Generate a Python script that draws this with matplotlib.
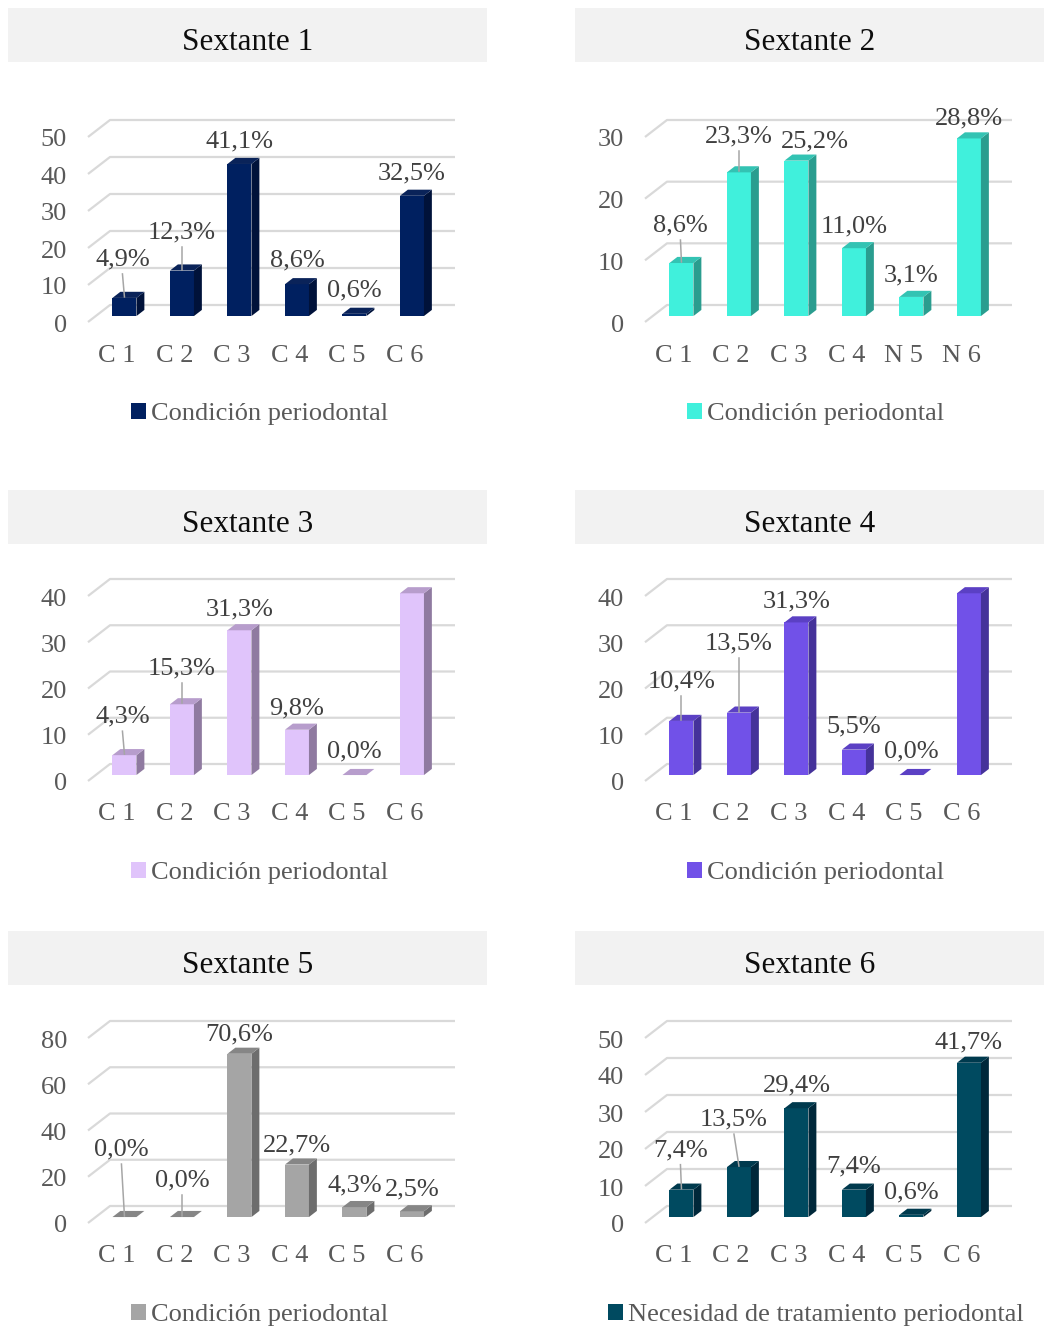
import matplotlib.pyplot as plt
from matplotlib.patches import Rectangle, Polygon, Patch

plt.rcParams['font.family'] = ['Liberation Serif', 'DejaVu Serif']

# Datos: porcentaje de cada código por sextante
categorias = ["C 1", "C 2", "C 3", "C 4", "C 5", "C 6"]
categorias_s2 = ["C 1", "C 2", "C 3", "C 4", "N 5", "N 6"]

s1 = [4.9, 12.3, 41.1, 8.6, 0.6, 32.5]
s2 = [8.6, 23.3, 25.2, 11.0, 3.1, 28.8]
s3 = [4.3, 15.3, 31.3, 9.8, 0.0, 39.3]
s4 = [10.4, 13.5, 31.3, 5.5, 0.0, 39.3]
s4_barras = [11.7, 13.5, 33.0, 5.5, 0.0, 39.3]  # en el original las barras no coinciden con la etiqueta
s5 = [0.0, 0.0, 70.6, 22.7, 4.3, 2.5]
s6 = [7.4, 13.5, 29.4, 7.4, 0.6, 41.7]

titulos = ["Sextante 1", "Sextante 2", "Sextante 3", "Sextante 4", "Sextante 5", "Sextante 6"]
leyendas = ["Condición periodontal"] * 5 + ["Necesidad de tratamiento periodontal"]
ymax = [50, 30, 40, 40, 80, 50]
paso = [10, 10, 10, 10, 20, 10]

etiquetas = [s1, s2, s3, s4, s5, s6]
alturas = [s1, s2, s3, s4_barras, s5, s6]
cats = [categorias, categorias_s2, categorias, categorias, categorias, categorias]

# colores: frente, lado, arriba
frente = ['#002060', '#40f0dc', '#e0c4fb', '#7151e8', '#a5a5a5', '#004a60']
lado = ['#00123a', '#2a9d8f', '#8f7aa0', '#45329a', '#6d6d6d', '#00283a']
arriba = ['#0a2359', '#33c3b3', '#b79dcc', '#5b40c4', '#868686', '#003a4e']

# desplazamiento de cada etiqueta (px) respecto a la parte alta de la barra
desp = [
    [(-2, 42), (0, 42), (0, 26), (0, 27), (0, 27), (0, 26)],
    [(-1, 41), (0, 39), (18, 23), (0, 25), (0, 25), (0, 23)],
    [(-2, 42), (0, 39), (0, 24), (0, 25), (0, 27), (0, 24)],
    [(0, 43), (0, 73), (0, 24), (0, 27), (0, 27), (0, 25)],
    [(-3, 71), (0, 40), (0, 23), (0, 23), (0, 25), (0, 25)],
    [(-1, 43), (-5, 51), (0, 26), (0, 27), (0, 26), (0, 24)],
]

W, H = 1044, 1327
fig = plt.figure(figsize=(W / 100, H / 100), dpi=100)

col_x = [88, 645]
fila_y = [322, 781, 1223]
caja_x = [(8, 487), (575, 1044)]
caja_y = [(8, 62), (490, 544), (931, 985)]
ley_x = [259.5, 816]
ancho, alto = 345, 185
gris = '#595959'
ajuste = -3.5  # va='center' deja el texto algo alto


def pt(px):
    return px * 0.72


for k in range(6):
    r, c = divmod(k, 2)

    # caja del título
    x0, x1 = caja_x[c]
    y0, y1 = caja_y[r]
    fig.patches.append(Rectangle((x0 / W, 1 - y1 / H), (x1 - x0) / W, (y1 - y0) / H,
                                 transform=fig.transFigure, facecolor='#f2f2f2', edgecolor='none'))
    fig.text((x0 + x1) / 2 / W, 1 - (y0 + 42) / H, titulos[k], ha='center', va='baseline',
             fontsize=22.5, color='#0d0d0d')

    ax = fig.add_axes([col_x[c] / W, 1 - fila_y[r] / H, ancho / W, alto / H])
    ax.set_xlim(-0.5, 5.5)
    ax.set_ylim(0, ymax[k])
    ax.axis('off')

    ppx = ancho / 6
    ppy = alto / ymax[k]

    def off(d):
        return d * 22 / ppx, d * 17 / ppy

    # rejilla en perspectiva
    bx, by = off(1)
    for v in range(0, ymax[k] + 1, paso[k]):
        ax.plot([-0.5, -0.5 + bx, 5.5 + bx], [v, v + by, v + by], color='#d9d9d9', lw=1.6,
                zorder=1, clip_on=False, solid_capstyle='butt')
        ax.annotate(str(v), xy=(-0.5, v), xytext=(pt(-21), pt(ajuste)), textcoords='offset points',
                    ha='right', va='center', fontsize=19, color=gris)

    # barras
    ox1, oy1 = off(0.35)
    ox2, oy2 = off(0.71)
    bw = 24 / ppx
    for i, (v, lab) in enumerate(zip(alturas[k], etiquetas[k])):
        xl = i - bw / 2
        xr = i + bw / 2
        if v > 0:
            ax.add_patch(Rectangle((xl + ox1, oy1), bw, v, facecolor=frente[k], edgecolor='none',
                                   zorder=3, clip_on=False))
            ax.add_patch(Polygon([(xr + ox1, oy1), (xr + ox2, oy2), (xr + ox2, v + oy2), (xr + ox1, v + oy1)],
                                 closed=True, facecolor=lado[k], edgecolor='none', zorder=3, clip_on=False))
        ax.add_patch(Polygon([(xl + ox1, v + oy1), (xr + ox1, v + oy1), (xr + ox2, v + oy2), (xl + ox2, v + oy2)],
                             closed=True, facecolor=arriba[k], edgecolor='none', zorder=3, clip_on=False))

        dx, dy = desp[k][i]
        texto = f"{lab:.1f}".replace(".", ",") + "%"
        ax.annotate(texto, xy=(i + ox1, v + oy1), xytext=(pt(dx), pt(dy + ajuste)), textcoords='offset points',
                    ha='center', va='center', fontsize=19, color='#404040', zorder=5)
        if dy > 35:
            ax.plot([i + ox1 + dx / ppx, i + ox1], [v + oy1 + (dy - 18) / ppy, v + oy1 + 1 / ppy],
                    color='#a6a6a6', lw=1.1, zorder=4, clip_on=False)

        ax.annotate(cats[k][i], xy=(i, 0), xytext=(0, pt(-30 + ajuste)), textcoords='offset points',
                    ha='center', va='center', fontsize=19, color=gris)

    fig.legend(handles=[Patch(facecolor=frente[k], edgecolor='none')], labels=[leyendas[k]],
               loc='center', bbox_to_anchor=(ley_x[c] / W, 1 - (fila_y[r] + 92) / H),
               frameon=False, fontsize=19, handlelength=0.56, handleheight=0.56,
               handletextpad=0.2, borderpad=0, borderaxespad=0, labelcolor=gris)

fig.savefig('out.png', dpi=100)
